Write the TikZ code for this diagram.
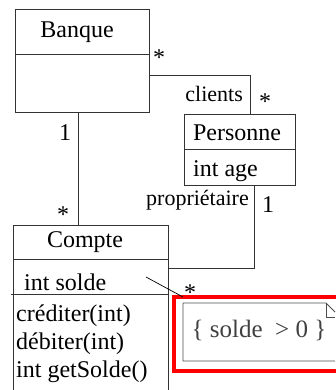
\documentclass[tikz,border=0pt]{standalone}
\usepackage{fontspec}
\setmainfont{Liberation Serif}
\newfontfamily\umlfont{Liberation Serif}
\newcommand\umlbig{\umlfont\fontsize{24}{26}\selectfont}
\newcommand\umlsmall{\umlfont\fontsize{22}{24}\selectfont}
\begin{document}
\begin{tikzpicture}[x=1pt,y=1pt,
  classbox/.style={draw=black!80,line width=0.9pt,rectangle,inner sep=0pt,anchor=north west},
  ctext/.style={inner sep=0pt},
  role/.style={inner sep=0pt,anchor=base},
  mult/.style={inner sep=0pt,anchor=base},
  wire/.style={draw=black!80,line width=0.9pt}]
\useasboundingbox (0,0) rectangle (335,-390);

% Banque
\node[classbox,minimum width=134pt,minimum height=103pt] (banque) at (15,-9) {};
\draw[wire] (15,-54) -- (149,-54);
\node[ctext,anchor=base] (banqueT) at (77,-38) {\umlbig Banque};

% Personne
\node[classbox,minimum width=111pt,minimum height=71pt] (personne) at (184,-114) {};
\draw[wire] (184,-149) -- (295,-149);
\node[ctext,anchor=base] (personneT) at (237,-140) {\umlbig Personne};
\node[ctext,anchor=base west] (ageT) at (193,-176) {\umlbig int age};

% Compte (box runs off the bottom edge)
\node[draw=none,rectangle,inner sep=0pt,anchor=north west,minimum width=155pt,minimum height=165pt] (compte) at (13,-225) {};
\draw[wire] (13,-390) -- (13,-225) -- (168,-225) -- (168,-390);
\draw[wire] (13,-259) -- (168,-259);
\draw[wire] (11,-294) -- (168,-294);
\node[ctext,anchor=base] (compteT) at (85,-247) {\umlbig Compte};
\node[ctext,anchor=base west] (solde) at (24,-290) {\umlbig int solde};
\node[ctext,anchor=base west] (op1) at (16,-321) {\umlbig créditer(int)};
\node[ctext,anchor=base west] (op2) at (16,-349) {\umlbig débiter(int)};
\node[ctext,anchor=base west] (op3) at (16,-377) {\umlbig int getSolde()};

% associations
\coordinate (c1) at (250,-75);
\draw[wire] (banque.east |- c1) -- (c1) -- (personne.north -| c1);
\coordinate (c2) at (78,0);
\draw[wire] (banque.south -| c2) -- (compte.north -| c2);
\coordinate (c3) at (254,-268);
\draw[wire] (personne.south -| c3) -- (c3) -- (compte.east |- c3);

\node[mult] (m1) at (159,-66) {\umlbig *};
\node[role,anchor=base east] (clients) at (243,-102) {\umlsmall clients};
\node[mult] (m2) at (265,-110) {\umlbig *};
\node[mult] (m3) at (65,-140) {\umlbig 1};
\node[mult] (m4) at (63,-222) {\umlbig *};
\node[role,anchor=base east] (proprio) at (249,-205) {\umlsmall propriétaire};
\node[mult] (m5) at (268,-212) {\umlbig 1};
\node[mult] (m6) at (190,-300) {\umlbig *};

% constraint note, cut by the right edge
\draw[red,line width=3.5pt] (336,-297) -- (174,-297) -- (174,-371) -- (336,-371);
\node[draw=none,inner sep=0pt,anchor=north west,minimum width=152pt,minimum height=58pt] (note) at (183,-303) {};
\draw[draw=black!70,line width=0.9pt] (183,-303) -- (326,-303) -- (335,-312) (183,-303) -- (183,-361) -- (335,-361);
\draw[draw=black!70,line width=0.9pt] (326,-303) -- (326,-317) -- (335,-317);
\node[text=black!75,inner sep=0pt,anchor=base] (rule) at (259,-337) {\umlfont\fontsize{25}{27}\selectfont \{ solde~~> 0 \}};
\coordinate (a1) at (146,-277);
\draw[black,line width=0.7pt] (a1) -- (note.north west |- 0,-297);
\end{tikzpicture}
\end{document}
